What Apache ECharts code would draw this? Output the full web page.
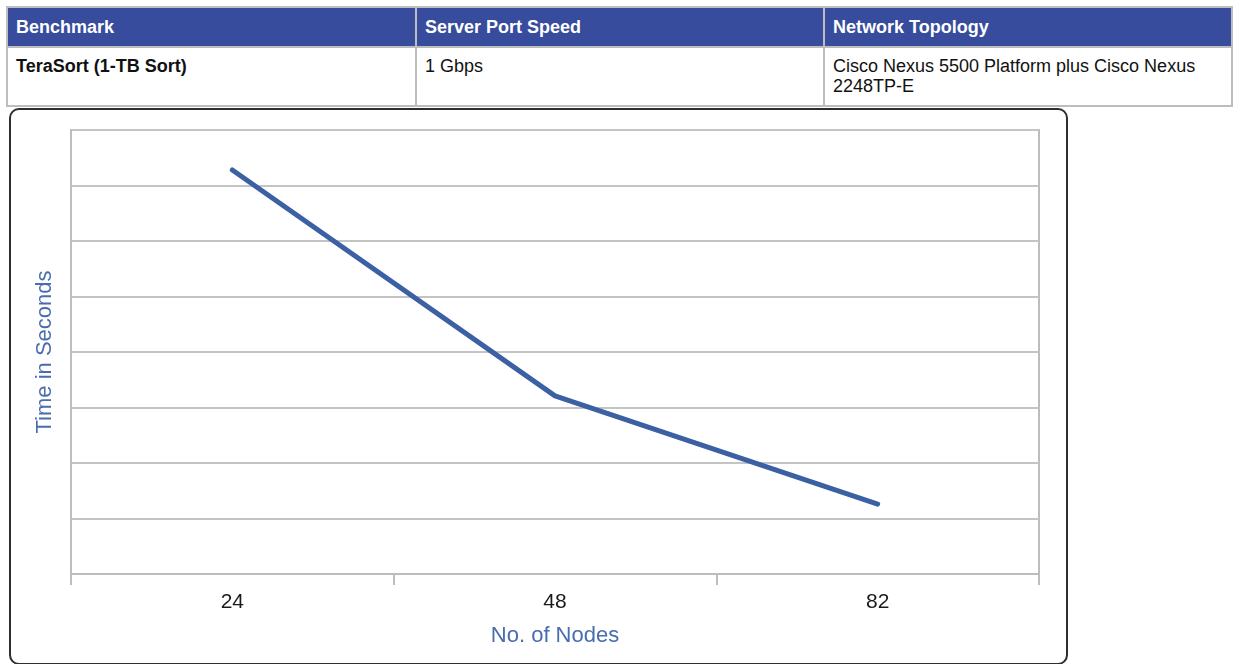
<!DOCTYPE html>
<html>
<head>
<meta charset="utf-8">
<script src="https://cdn.jsdelivr.net/npm/echarts@6/dist/echarts.min.js"></script>
<style>
    body { margin: 0; background: #fff; font-family: "Liberation Sans", Arial, sans-serif; }
    #tbl { position: absolute; left: 6px; top: 6px; width: 1227px; border-collapse: collapse; font-size: 18px; }
    #tbl td, #tbl th { border: 2px solid #bdbdbd; text-align: left; vertical-align: top; }
    #tbl th { background: #374c9c; color: #fff; font-weight: bold; height: 38px; padding: 0 8px; vertical-align: middle; }
    #tbl td { height: 49px; padding: 8px 8px 0 8px; line-height: 20px; color: #111; }
    #chartBox { position: absolute; left: 9px; top: 108px; width: 1055px; height: 553px;
        border: 2px solid #2e2e2e; border-radius: 10px; background: #fff; }
    #main { width: 1055px; height: 553px; }
</style>
</head>
<body>
<table id="tbl">
    <tr>
        <th style="width:391px">Benchmark</th>
        <th style="width:390px">Server Port Speed</th>
        <th>Network Topology</th>
    </tr>
    <tr>
        <td style="font-weight:bold">TeraSort (1-TB Sort)</td>
        <td>1 Gbps</td>
        <td>Cisco Nexus 5500 Platform plus Cisco Nexus 2248TP-E</td>
    </tr>
</table>
<div id="chartBox"><div id="main"></div></div>
<script>
    // 数据
    var nodes = ['24', '48', '82'];
    var timeVals = [7.28, 3.21, 1.26];

    var dom = document.getElementById("main");
    var myChart = echarts.init(dom);
    var option = {
        animation: false,
        grid: {
            left: 60,
            top: 20,
            right: 27,
            bottom: 89,
            show: true,
            borderColor: '#bdbdbd',
            borderWidth: 2
        },
        xAxis: {
            type: 'category',
            data: nodes,
            boundaryGap: true,
            name: 'No. of Nodes',
            nameLocation: 'middle',
            nameGap: 51,
            nameTextStyle: { color: '#4a6db0', fontSize: 22, fontFamily: 'Liberation Sans' },
            axisLine: { show: true, lineStyle: { color: '#bdbdbd', width: 2 } },
            axisTick: { show: true, alignWithLabel: false, length: 11, lineStyle: { color: '#bdbdbd', width: 2 } },
            axisLabel: { color: '#1a1a1a', fontSize: 21, margin: 18, fontFamily: 'Liberation Sans' }
        },
        yAxis: {
            type: 'value',
            min: 0,
            max: 8,
            interval: 1,
            name: 'Time in Seconds',
            nameLocation: 'middle',
            nameGap: 15,
            nameTextStyle: { color: '#4a6db0', fontSize: 22, fontFamily: 'Liberation Sans' },
            axisLine: { show: true, lineStyle: { color: '#bdbdbd', width: 2 } },
            axisTick: { show: false },
            axisLabel: { show: false },
            splitLine: { lineStyle: { color: '#c4c4c4', width: 2 } }
        },
        series: [
            {
                type: 'line',
                data: timeVals,
                symbol: 'none',
                lineStyle: { color: '#3b60a3', width: 5, cap: 'round' }
            }
        ]
    };
    myChart.setOption(option);
</script>
</body>
</html>
